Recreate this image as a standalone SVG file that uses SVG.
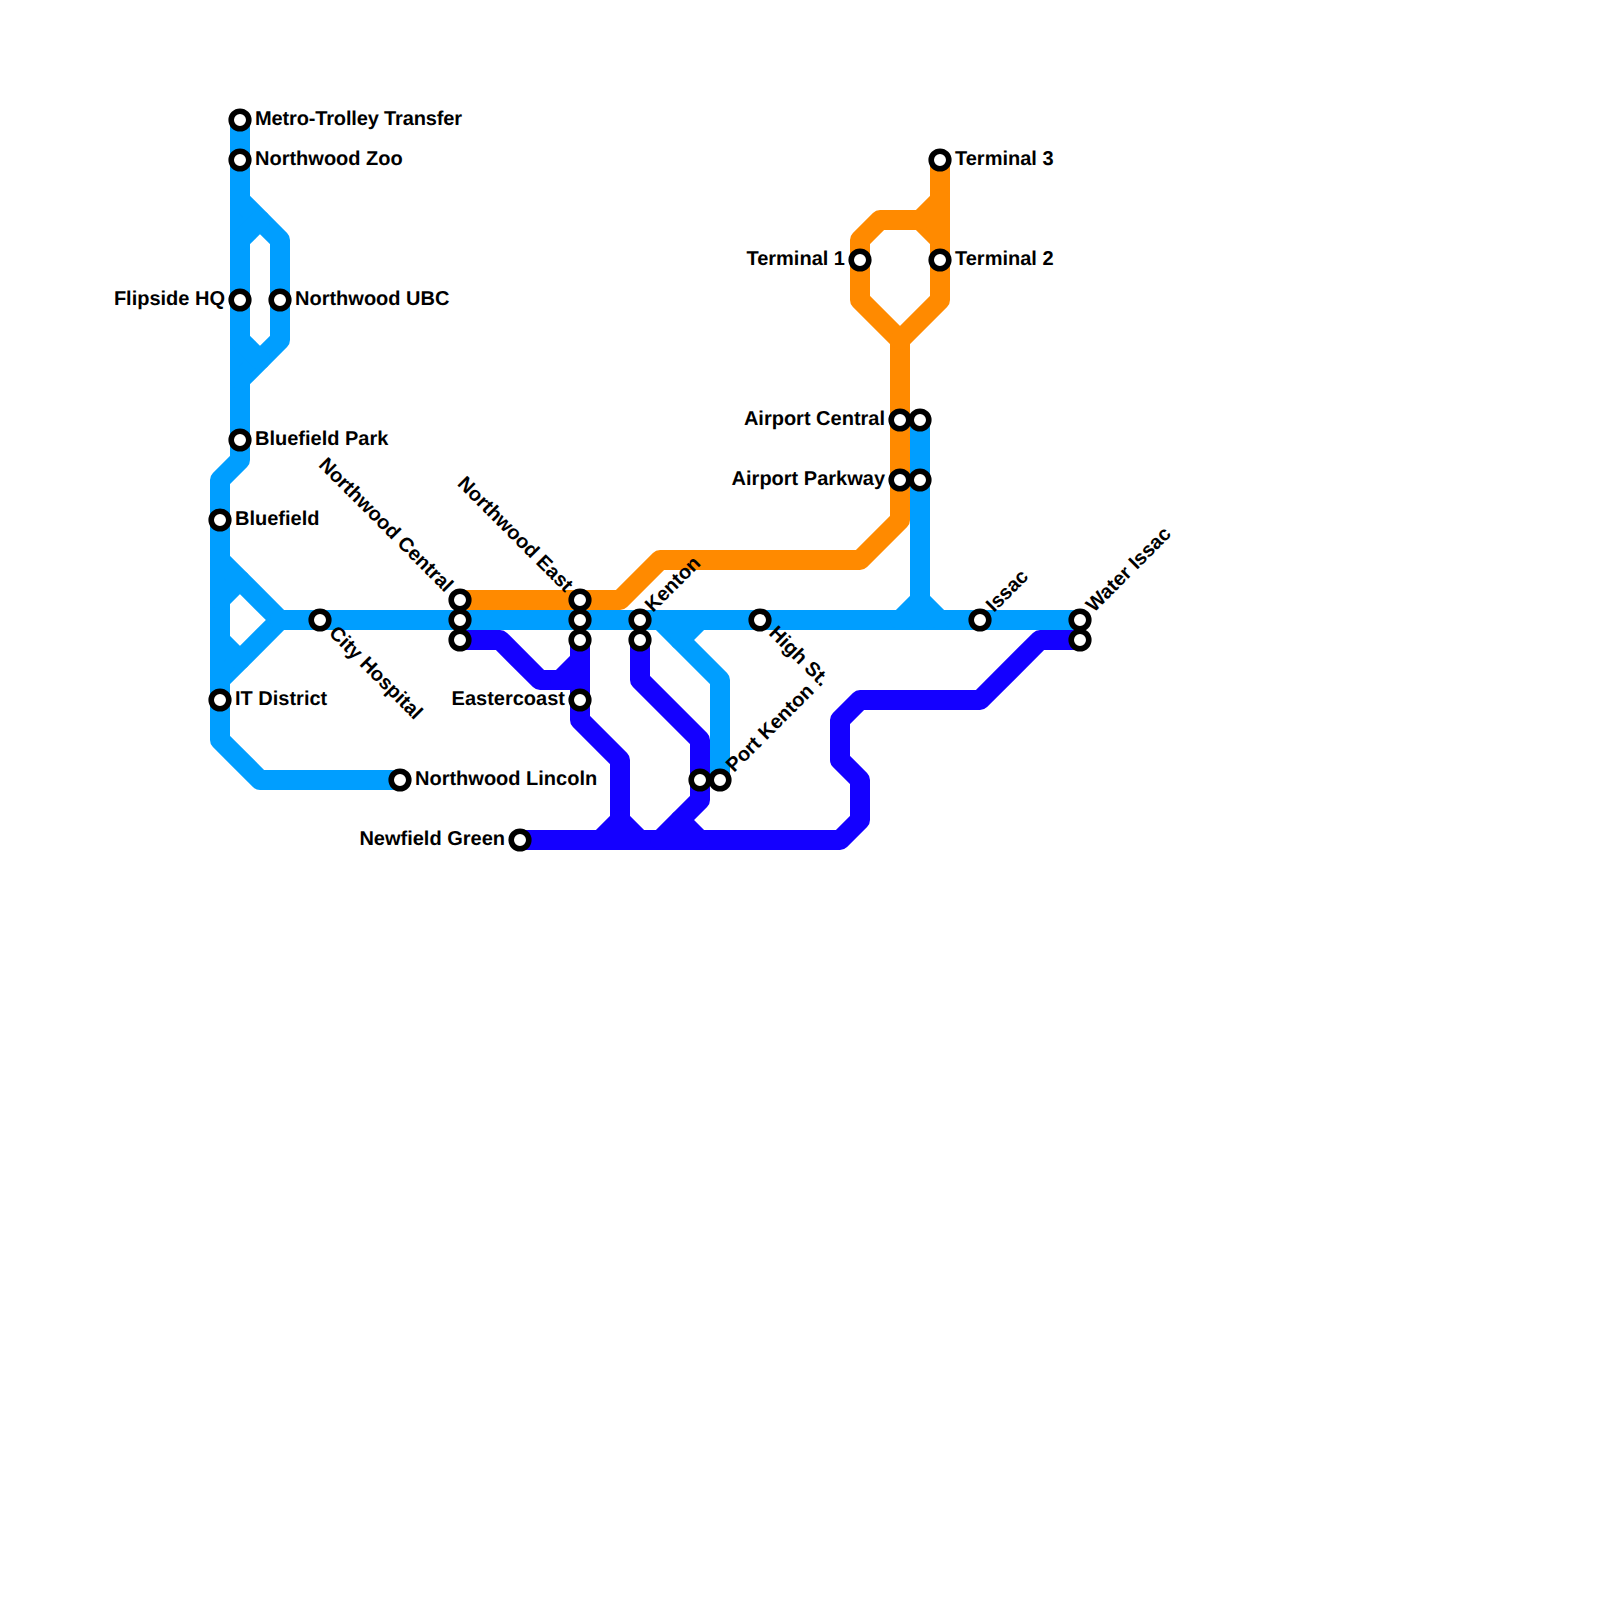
<svg xmlns="http://www.w3.org/2000/svg" width="1600" height="1600" viewBox="0 0 1600 1600">
<style>
.l{fill:none;stroke-width:20;stroke-linejoin:round;stroke-linecap:round}
.o{stroke:#ff8a00}.b{stroke:#009eff}.i{stroke:#1400ff}
.s{fill:#fff;stroke:#000;stroke-width:5.6}
text{font-family:"Liberation Sans",Arial,sans-serif;font-weight:700;font-size:20px;fill:#000;text-rendering:geometricPrecision}
.e{text-anchor:end}
</style>
<rect width="1600" height="1600" fill="#fff"/>
<g id="connectors">
<g id="line-orange" class="l o">
<path d="M460 600H620L660 560H860L900 520V340L860 300V240L880 220H920L940 240"/>
<path d="M900 340L940 300V160"/>
<path d="M920 220L940 200"/>
</g>
<g id="line-blue" class="l b">
<path d="M240 120V460L220 480V740L260 780H400"/>
<path d="M240 200L280 240V340L240 380"/>
<path d="M240 240L260 220"/>
<path d="M240 340L260 360"/>
<path d="M220 560L280 620L220 680"/>
<path d="M220 600L240 580"/>
<path d="M220 640L240 660"/>
<path d="M280 620H1080"/>
<path d="M660 620L720 680V780"/>
<path d="M680 640L700 620"/>
<path d="M920 420V620"/>
<path d="M900 620L920 600L940 620"/>
</g>
<g id="line-indigo" class="l i">
<path d="M460 640H500L540 680H580"/>
<path d="M560 680L580 660"/>
<path d="M580 640V720L620 760V840"/>
<path d="M600 840L620 820L640 840"/>
<path d="M520 840H840L860 820V780L840 760V720L860 700H980L1040 640H1080"/>
<path d="M640 640V680L700 740V800L660 840"/>
<path d="M680 820L700 840"/>
</g>
</g>
<g id="st-metro"><circle class="s" cx="240" cy="120" r="8.8"/><text x="255" y="125" textLength="207" lengthAdjust="spacing">Metro-Trolley Transfer</text></g>
<g id="st-zoo"><circle class="s" cx="240" cy="160" r="8.8"/><text x="255" y="165">Northwood Zoo</text></g>
<g id="st-flipside"><circle class="s" cx="240" cy="300" r="8.8"/><text class="e" x="225" y="305">Flipside HQ</text></g>
<g id="st-ubc"><circle class="s" cx="280" cy="300" r="8.8"/><text x="295" y="305">Northwood UBC</text></g>
<g id="st-bluefield-park"><circle class="s" cx="240" cy="440" r="8.8"/><text x="255" y="445">Bluefield Park</text></g>
<g id="st-bluefield"><circle class="s" cx="220" cy="520" r="8.8"/><text x="235" y="525">Bluefield</text></g>
<g id="st-it"><circle class="s" cx="220" cy="700" r="8.8"/><text x="235" y="705">IT District</text></g>
<g id="st-hospital"><circle class="s" cx="320" cy="620" r="8.8"/><text transform="translate(328 634) rotate(45)">City Hospital</text></g>
<g id="st-lincoln"><circle class="s" cx="400" cy="780" r="8.8"/><text x="415" y="785">Northwood Lincoln</text></g>
<g id="st-newfield"><circle class="s" cx="520" cy="840" r="8.8"/><text class="e" x="505" y="845">Newfield Green</text></g>
<g id="st-central"><circle class="s" cx="460" cy="600" r="8.8"/><circle class="s" cx="460" cy="620" r="8.8"/><circle class="s" cx="460" cy="640" r="8.8"/><text class="e" transform="translate(445 593) rotate(45)">Northwood Central</text></g>
<g id="st-east"><circle class="s" cx="580" cy="600" r="8.8"/><circle class="s" cx="580" cy="620" r="8.8"/><circle class="s" cx="580" cy="640" r="8.8"/><text class="e" transform="translate(565 593) rotate(45)">Northwood East</text></g>
<g id="st-eastercoast"><circle class="s" cx="580" cy="700" r="8.8"/><text class="e" x="565" y="705">Eastercoast</text></g>
<g id="st-kenton"><circle class="s" cx="640" cy="620" r="8.8"/><circle class="s" cx="640" cy="640" r="8.8"/><text transform="translate(653 613) rotate(-45)">Kenton</text></g>
<g id="st-high"><circle class="s" cx="760" cy="620" r="8.8"/><text transform="translate(768 634) rotate(45)">High St.</text></g>
<g id="st-port-kenton"><circle class="s" cx="700" cy="780" r="8.8"/><circle class="s" cx="720" cy="780" r="8.8"/><text transform="translate(734 773) rotate(-45)">Port Kenton</text></g>
<g id="st-issac"><circle class="s" cx="980" cy="620" r="8.8"/><text transform="translate(994 613) rotate(-45)">Issac</text></g>
<g id="st-water"><circle class="s" cx="1080" cy="620" r="8.8"/><circle class="s" cx="1080" cy="640" r="8.8"/><text transform="translate(1094 613) rotate(-45)">Water Issac</text></g>
<g id="st-airport-central"><circle class="s" cx="900" cy="420" r="8.8"/><circle class="s" cx="920" cy="420" r="8.8"/><text class="e" x="885" y="425">Airport Central</text></g>
<g id="st-airport-parkway"><circle class="s" cx="900" cy="480" r="8.8"/><circle class="s" cx="920" cy="480" r="8.8"/><text class="e" x="885" y="485">Airport Parkway</text></g>
<g id="st-t1"><circle class="s" cx="860" cy="260" r="8.8"/><text class="e" x="845" y="265">Terminal 1</text></g>
<g id="st-t2"><circle class="s" cx="940" cy="260" r="8.8"/><text x="955" y="265">Terminal 2</text></g>
<g id="st-t3"><circle class="s" cx="940" cy="160" r="8.8"/><text x="955" y="165">Terminal 3</text></g>
</svg>
